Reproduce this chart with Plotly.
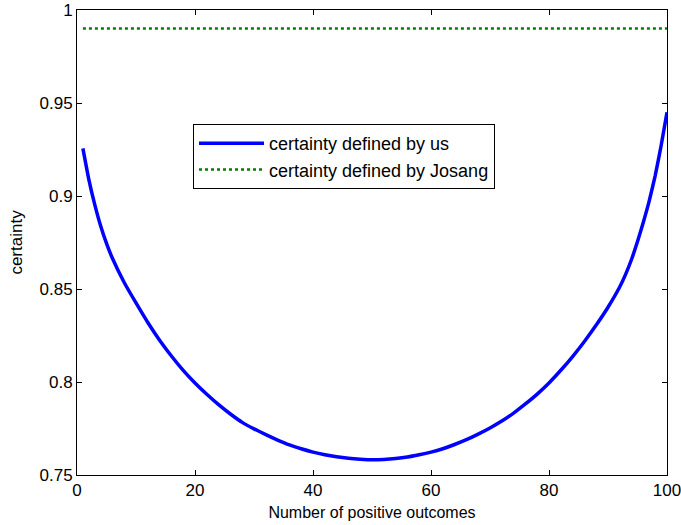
import plotly.graph_objects as go

# Data
positive_outcomes = [1, 2, 3, 4, 5, 6, 8, 10, 12, 14, 16, 18, 20, 22, 24, 26, 28, 30,
                     32, 34, 36, 38, 40, 42, 44, 46, 48, 50, 52, 54, 56, 58, 60, 62,
                     64, 66, 68, 70, 72, 74, 76, 78, 80, 82, 84, 86, 88, 90, 92, 93,
                     94, 95, 96, 97, 98, 99, 100]
certainty_us = [0.9256, 0.909, 0.8955, 0.884, 0.8745, 0.8665, 0.8535, 0.8425, 0.832,
                0.8225, 0.814, 0.8063, 0.7995, 0.7934, 0.7878, 0.7828, 0.7783, 0.7748,
                0.7717, 0.7688, 0.7662, 0.7641, 0.7623, 0.7609, 0.7598, 0.7590, 0.7585,
                0.7582, 0.7584, 0.7589, 0.7597, 0.7609, 0.7623, 0.7641, 0.7664, 0.7690,
                0.7720, 0.7753, 0.7790, 0.7833, 0.7882, 0.7935, 0.7995, 0.8063, 0.8137,
                0.8218, 0.8306, 0.8402, 0.8512, 0.858, 0.866, 0.8755, 0.886, 0.8975,
                0.911, 0.927, 0.945]
josang_x = [1, 100]
certainty_josang = [0.99, 0.99]

x_ticks = [0, 20, 40, 60, 80, 100]
y_ticks = [0.75, 0.8, 0.85, 0.9, 0.95, 1]
y_tick_labels = ["0.75", "0.8", "0.85", "0.9", "0.95", "1"]

FONT = "Liberation Sans, Arial, Helvetica, sans-serif"

fig = go.Figure()
fig.add_trace(go.Scatter(
    x=positive_outcomes, y=certainty_us, mode="lines",
    name="certainty defined by us",
    line=dict(color="rgb(0,0,255)", width=3.5, shape="spline", smoothing=0.5),
))
fig.add_trace(go.Scatter(
    x=josang_x, y=certainty_josang, mode="lines",
    name="certainty defined by Josang",
    line=dict(color="rgb(0,128,0)", width=2.5, dash="dot"),
))

axis_common = dict(
    showgrid=False, zeroline=False, showline=True, linecolor="black", linewidth=1,
    mirror="ticks", ticks="inside", ticklen=5, tickcolor="black", tickwidth=1,
    tickfont=dict(family=FONT, size=17, color="black"), automargin=False,
    ticklabeloverflow="allow",
)

# plot area sits at x 77..667, y 10..475 of the 681x525 page
fig.update_layout(
    width=681, height=525,
    margin=dict(l=77, r=14, t=10, b=50),
    paper_bgcolor="white", plot_bgcolor="white",
    font=dict(family=FONT, size=16, color="black"),
    showlegend=True,
    legend=dict(
        x=(193 - 77) / 590, y=(475 - 124) / 465, xanchor="left", yanchor="top",
        bordercolor="black", borderwidth=1, bgcolor="white",
        font=dict(family=FONT, size=18, color="black"),
        itemwidth=65, tracegroupgap=0,
    ),
    xaxis=dict(range=[0, 100], tickvals=x_ticks,
               title=dict(text="Number of positive outcomes", standoff=7,
                          font=dict(family=FONT, size=16)),
               **axis_common),
    yaxis=dict(range=[0.75, 1], tickvals=y_ticks, ticktext=y_tick_labels,
               title=dict(text="certainty", standoff=12,
                          font=dict(family=FONT, size=17)),
               **axis_common),
)

# remove the browser's default 8px body margin so the figure fills the window
fig.write_html("out.html", config={"displayModeBar": False},
               post_script="document.body.style.margin='0';")
